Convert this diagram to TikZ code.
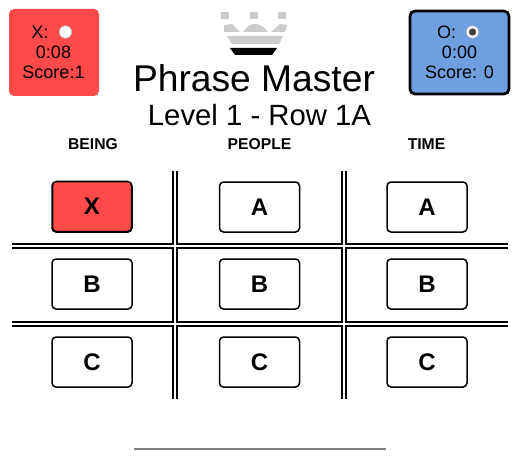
\documentclass[tikz,border=0pt]{standalone}
\usepackage{fontspec}
\setmainfont{Liberation Sans}
\usetikzlibrary{positioning}
\definecolor{redfill}{HTML}{FF4A4A}
\definecolor{bluefill}{HTML}{6F9FE0}
\definecolor{crowngray}{HTML}{CCCCCC}
\newcommand{\fsize}[1]{\fontsize{#1}{#1}\selectfont}
\tikzset{
    panel/.style={rounded corners=5pt,inner sep=0pt},
    panelline/.style={font=\fsize{18},inner sep=0pt},
    radio/.style={circle,draw=gray!60,fill=white,line width=0.6pt,minimum size=12.5pt,inner sep=0pt},
    heading/.style={font=\bfseries\fsize{15.7},inner sep=0pt},
    choice/.style={draw,rounded corners=4pt,line width=1.5pt,minimum width=80pt,minimum height=50pt,inner sep=0pt,font=\bfseries\fsize{24}},
    gridband/.style={line width=6pt},
    gridgap/.style={white,line width=1.8pt},
}
\begin{document}
\begin{tikzpicture}[x=1pt,y=-1pt]
\useasboundingbox (0,0) rectangle (526,462);
% score panels
\node (xpanel) [panel,fill=redfill,minimum width=90pt,minimum height=87pt] at (54,52.5) {};
\node (xmark) [panelline] at (40,32) {X:};
\node (xradio) [radio] at (65.5,32) {};
\node (xtime) [panelline] at (53.5,52.5) {0:08};
\node (xscore) [panelline] at (53.5,72.5) {Score:1};
%
\node (opanel) [panel,draw,line width=2.8pt,fill=bluefill,minimum width=99pt,minimum height=83pt] at (459.5,52.5) {};
\node (omark) [panelline] at (446.5,32) {O:};
\node (oradio) [radio] at (472.5,32) {};
\fill[black!75] (oradio) circle (3.6pt);
\node (otime) [panelline] at (459.5,52.5) {0:00};
\node (oscore) [panelline] at (459.5,72.5) {Score: 0};
% crown
\foreach \x in {221,250,278}
    \fill[crowngray] (\x,12) rectangle +(8,7);
\fill[crowngray] (224,25) -- (232,24) -- (240,32) -- (224,32) -- cycle;
\fill[crowngray] (243,32) .. controls (247,26) and (250,24) .. (255,24) .. controls (260,24) and (264,27) .. (268,32) -- cycle;
\fill[crowngray] (271,32) -- (280,24) -- (287,25) -- (285,32) -- cycle;
\fill[crowngray] (227,36) -- (283,36) -- (279,44) -- (232,44) -- cycle;
\fill[black] (230,48) -- (277,48) -- (272,55) -- (235,55) -- cycle;
% titles
\node (title) [font=\fsize{37.2},inner sep=0pt] at (254,78) {Phrase Master};
\node (level) [font=\fsize{29.3},inner sep=0pt] at (259.5,115) {Level 1 - Row 1A};
% columns
\foreach \name/\x/\word in {a/93/BEING,b/259.5/PEOPLE,c/426.5/TIME}
    \node (head\name) [heading] at (\x,144) {\word};
\foreach \name/\x in {a/92,b/259.5,c/427}{
    \node (\name1) [choice] at (\x,207) {A};
    \node (\name2) [choice] at (\x,284) {B};
    \node (\name3) [choice] at (\x,362) {C};
}
\node (a1) [choice,fill=redfill,minimum width=79pt] at (92,206.5) {X};
% grid
\foreach \x in {174.9,343.9}
    \draw[gridband] (\x,171) -- (\x,398.5);
\foreach \y in {246.2,323.9}
    \draw[gridband] (12,\y) -- (508,\y);
\foreach \x in {174.9,343.9}
    \draw[gridgap] (\x,171) -- (\x,398.5);
\foreach \y in {246.2,323.9}
    \draw[gridgap] (12,\y) -- (508,\y);
%
\draw[gray,line width=1.5pt] (134,449) -- (386,449);
\end{tikzpicture}
\end{document}
